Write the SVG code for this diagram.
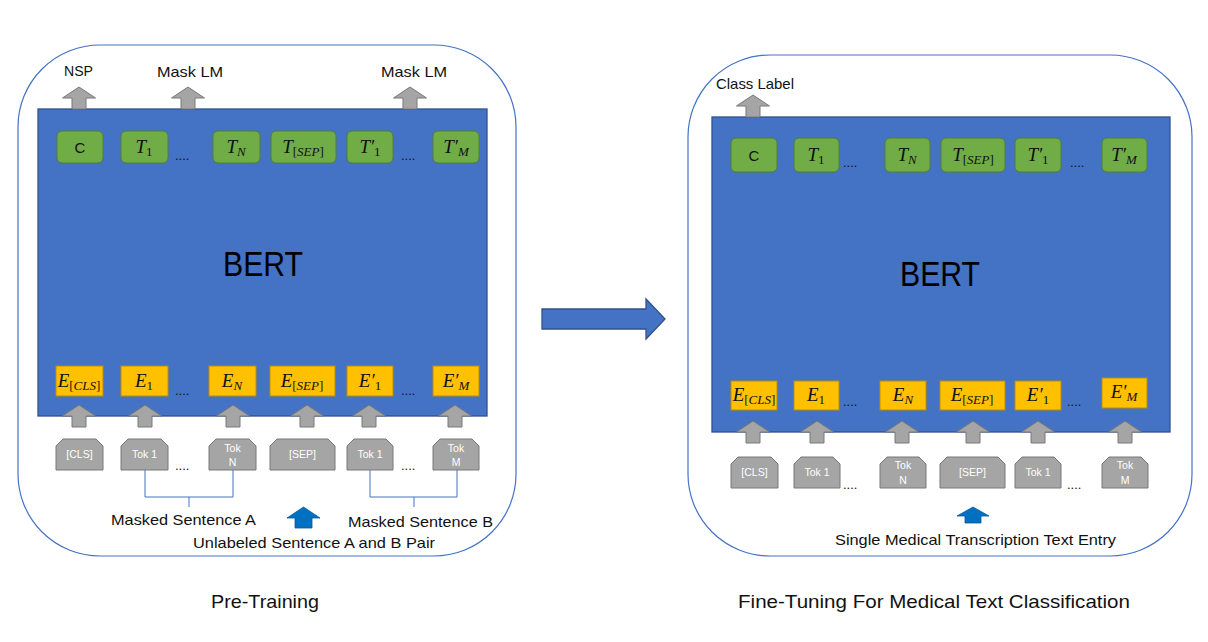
<svg xmlns="http://www.w3.org/2000/svg" xmlns:xlink="http://www.w3.org/1999/xlink" width="1208" height="642" viewBox="0 0 1208 642">
<defs>
<style>
.panel{fill:#fff;stroke:#4472C4;stroke-width:1.2}
.bert{fill:#4472C4;stroke:#2F528F;stroke-width:1.3}
.g{fill:#70AD47;stroke:#507E32;stroke-width:1}
.y{fill:#FFC000;stroke:#BC8C00;stroke-width:1}
.tok{fill:#A5A5A5;stroke:#787878;stroke-width:1}
.arr{fill:#A5A5A5;stroke:#787878;stroke-width:1}
.barr{fill:#0070C0;stroke:#005A9E;stroke-width:0.8}
.lbl{font-family:"Liberation Sans",Arial,sans-serif;font-size:15px;fill:#111}
.cap{font-family:"Liberation Sans",Arial,sans-serif;font-size:19px;fill:#111;text-anchor:middle}
.big{font-family:"Liberation Sans",Arial,sans-serif;font-size:35px;fill:#000;text-anchor:middle}
.m{font-family:"Liberation Serif","Times New Roman",serif;font-style:italic;font-size:19px;fill:#111;text-anchor:middle}
.s{font-size:13px}
.n{font-style:normal}
.c{font-family:"Liberation Sans",Arial,sans-serif;font-size:15px;fill:#111;text-anchor:middle}
.tt{font-family:"Liberation Sans",Arial,sans-serif;font-size:10.5px;fill:#fff;text-anchor:middle}
.dots{font-family:"Liberation Sans",Arial,sans-serif;font-size:13px;fill:#111}
.br{fill:none;stroke:#4472C4;stroke-width:1}
</style>
<path id="up" d="M0,0 L16.5,11 L7,11 L7,22 L-7,22 L-7,11 L-16.5,11 Z"/>
</defs>

<g id="pretraining-panel">
<rect class="panel" x="18" y="45" width="498" height="511" rx="82" ry="82"/>
</g>
<g id="finetuning-panel">
<rect class="panel" x="688" y="55" width="504" height="501" rx="82" ry="82"/>
</g>

<!-- ===== LEFT ===== -->
<g id="bert-left">
<rect class="bert" x="38" y="109" width="449" height="307"/>
<text class="big" x="263" y="276" textLength="80" lengthAdjust="spacingAndGlyphs">BERT</text>
</g>

<g id="L-C"><rect class="g" x="57" y="131" width="46" height="32" rx="5"/><text class="c" x="80" y="153">C</text></g>
<g id="L-T1"><rect class="g" x="121" y="131" width="47" height="32" rx="5"/><text class="m" x="144" y="153">T<tspan class="s n" dy="3">1</tspan></text></g>
<g id="L-TN"><rect class="g" x="213" y="131" width="47" height="32" rx="5"/><text class="m" x="236" y="153">T<tspan class="s" dy="3">N</tspan></text></g>
<g id="L-TSEP"><rect class="g" x="271" y="131" width="65" height="32" rx="5"/><text class="m" x="303" y="153">T<tspan class="s" dy="3"><tspan class="n">[</tspan>SEP<tspan class="n">]</tspan></tspan></text></g>
<g id="L-T1p"><rect class="g" x="347" y="131" width="46" height="32" rx="5"/><text class="m" x="370" y="153">T′<tspan class="s n" dy="3">1</tspan></text></g>
<g id="L-TMp"><rect class="g" x="433" y="131" width="46" height="32" rx="5"/><text class="m" x="456" y="153">T′<tspan class="s" dy="3">M</tspan></text></g>
<text class="dots" x="175" y="160">....</text>
<text class="dots" x="401" y="160">....</text>

<g id="L-ECLS"><rect class="y" x="56" y="366" width="47" height="30"/><text class="m" x="79" y="387">E<tspan class="s" dy="3"><tspan class="n">[</tspan>CLS<tspan class="n">]</tspan></tspan></text></g>
<g id="L-E1"><rect class="y" x="121" y="366" width="47" height="30"/><text class="m" x="144" y="387">E<tspan class="s n" dy="3">1</tspan></text></g>
<g id="L-EN"><rect class="y" x="209" y="366" width="47" height="30"/><text class="m" x="232" y="387">E<tspan class="s" dy="3">N</tspan></text></g>
<g id="L-ESEP"><rect class="y" x="270" y="366" width="65" height="30"/><text class="m" x="302" y="387">E<tspan class="s" dy="3"><tspan class="n">[</tspan>SEP<tspan class="n">]</tspan></tspan></text></g>
<g id="L-E1p"><rect class="y" x="347" y="366" width="46" height="30"/><text class="m" x="370" y="387">E′<tspan class="s n" dy="3">1</tspan></text></g>
<g id="L-EMp"><rect class="y" x="433" y="366" width="46" height="30"/><text class="m" x="456" y="387">E′<tspan class="s" dy="3">M</tspan></text></g>
<text class="dots" x="175" y="395">....</text>
<text class="dots" x="401" y="395">....</text>

<g id="L-tokCLS"><path class="tok" d="M56,470 L56,446 L63,439 L96,439 L103,446 L103,470 Z"/><text class="tt" x="79.5" y="458">[CLS]</text></g>
<g id="L-tok1"><path class="tok" d="M121,470 L121,446 L128,439 L161,439 L168,446 L168,470 Z"/><text class="tt" x="144.5" y="458">Tok 1</text></g>
<g id="L-tokN"><path class="tok" d="M209,470 L209,446 L216,439 L249,439 L256,446 L256,470 Z"/><text class="tt" x="232.5" y="452">Tok</text><text class="tt" x="232.5" y="466">N</text></g>
<g id="L-tokSEP"><path class="tok" d="M270,470 L270,446 L277,439 L328,439 L335,446 L335,470 Z"/><text class="tt" x="302.5" y="458">[SEP]</text></g>
<g id="L-tok1b"><path class="tok" d="M347,470 L347,446 L354,439 L386,439 L393,446 L393,470 Z"/><text class="tt" x="370" y="458">Tok 1</text></g>
<g id="L-tokM"><path class="tok" d="M433,470 L433,446 L440,439 L472,439 L479,446 L479,470 Z"/><text class="tt" x="456" y="452">Tok</text><text class="tt" x="456" y="466">M</text></g>
<text class="dots" x="175" y="470">....</text>
<text class="dots" x="401" y="470">....</text>

<g id="L-labels">
<text class="lbl" x="64" y="76" textLength="29" lengthAdjust="spacingAndGlyphs">NSP</text>
<text class="lbl" x="157" y="77" textLength="66" lengthAdjust="spacingAndGlyphs">Mask LM</text>
<text class="lbl" x="381" y="77" textLength="66" lengthAdjust="spacingAndGlyphs">Mask LM</text>
<text class="lbl" x="111" y="525" textLength="145" lengthAdjust="spacingAndGlyphs">Masked Sentence A</text>
<text class="lbl" x="348" y="527" textLength="145" lengthAdjust="spacingAndGlyphs">Masked Sentence B</text>
<text class="lbl" x="193" y="548" textLength="242" lengthAdjust="spacingAndGlyphs">Unlabeled Sentence A and B Pair</text>
</g>

<!-- ===== RIGHT ===== -->
<g id="bert-right">
<rect class="bert" x="712" y="117" width="458" height="315"/>
<text class="big" x="940" y="286" textLength="80" lengthAdjust="spacingAndGlyphs">BERT</text>
</g>

<g id="R-C"><rect class="g" x="731" y="138" width="46" height="34" rx="5"/><text class="c" x="754" y="161">C</text></g>
<g id="R-T1"><rect class="g" x="794" y="138" width="45" height="34" rx="5"/><text class="m" x="816" y="161">T<tspan class="s n" dy="3">1</tspan></text></g>
<g id="R-TN"><rect class="g" x="885" y="138" width="45" height="34" rx="5"/><text class="m" x="907" y="161">T<tspan class="s" dy="3">N</tspan></text></g>
<g id="R-TSEP"><rect class="g" x="941" y="138" width="64" height="34" rx="5"/><text class="m" x="973" y="161">T<tspan class="s" dy="3"><tspan class="n">[</tspan>SEP<tspan class="n">]</tspan></tspan></text></g>
<g id="R-T1p"><rect class="g" x="1015" y="138" width="46" height="34" rx="5"/><text class="m" x="1038" y="161">T′<tspan class="s n" dy="3">1</tspan></text></g>
<g id="R-TMp"><rect class="g" x="1102" y="138" width="45" height="34" rx="5"/><text class="m" x="1124" y="161">T′<tspan class="s" dy="3">M</tspan></text></g>
<text class="dots" x="843" y="167">....</text>
<text class="dots" x="1070" y="167">....</text>

<g id="R-ECLS"><rect class="y" x="731" y="381" width="46" height="29"/><text class="m" x="754" y="401">E<tspan class="s" dy="3"><tspan class="n">[</tspan>CLS<tspan class="n">]</tspan></tspan></text></g>
<g id="R-E1"><rect class="y" x="794" y="381" width="45" height="29"/><text class="m" x="816" y="401">E<tspan class="s n" dy="3">1</tspan></text></g>
<g id="R-EN"><rect class="y" x="880" y="381" width="46" height="29"/><text class="m" x="903" y="401">E<tspan class="s" dy="3">N</tspan></text></g>
<g id="R-ESEP"><rect class="y" x="940" y="381" width="65" height="29"/><text class="m" x="972" y="401">E<tspan class="s" dy="3"><tspan class="n">[</tspan>SEP<tspan class="n">]</tspan></tspan></text></g>
<g id="R-E1p"><rect class="y" x="1015" y="381" width="46" height="29"/><text class="m" x="1038" y="401">E′<tspan class="s n" dy="3">1</tspan></text></g>
<g id="R-EMp"><rect class="y" x="1102" y="378" width="45" height="30"/><text class="m" x="1124" y="398">E′<tspan class="s" dy="3">M</tspan></text></g>
<text class="dots" x="843" y="406">....</text>
<text class="dots" x="1067" y="406">....</text>

<g id="R-tokCLS"><path class="tok" d="M731,488 L731,464 L738,457 L771,457 L778,464 L778,488 Z"/><text class="tt" x="754.5" y="476">[CLS]</text></g>
<g id="R-tok1"><path class="tok" d="M794,488 L794,464 L801,457 L833,457 L840,464 L840,488 Z"/><text class="tt" x="817" y="476">Tok 1</text></g>
<g id="R-tokN"><path class="tok" d="M880,488 L880,464 L887,457 L919,457 L926,464 L926,488 Z"/><text class="tt" x="903" y="469">Tok</text><text class="tt" x="903" y="484">N</text></g>
<g id="R-tokSEP"><path class="tok" d="M940,488 L940,464 L947,457 L998,457 L1005,464 L1005,488 Z"/><text class="tt" x="972.5" y="476">[SEP]</text></g>
<g id="R-tok1b"><path class="tok" d="M1015,488 L1015,464 L1022,457 L1054,457 L1061,464 L1061,488 Z"/><text class="tt" x="1038" y="476">Tok 1</text></g>
<g id="R-tokM"><path class="tok" d="M1102,488 L1102,464 L1109,457 L1141,457 L1148,464 L1148,488 Z"/><text class="tt" x="1125" y="469">Tok</text><text class="tt" x="1125" y="484">M</text></g>
<text class="dots" x="843" y="489">....</text>
<text class="dots" x="1067" y="489">....</text>

<g id="R-labels">
<text class="lbl" x="716" y="89" textLength="78" lengthAdjust="spacingAndGlyphs">Class Label</text>
<text class="lbl" x="835" y="545" textLength="281" lengthAdjust="spacingAndGlyphs">Single Medical Transcription Text Entry</text>
</g>

<g id="captions">
<text class="cap" x="265" y="608" textLength="108" lengthAdjust="spacingAndGlyphs">Pre-Training</text>
<text class="cap" x="934" y="608" textLength="392" lengthAdjust="spacingAndGlyphs">Fine-Tuning For Medical Text Classification</text>
</g>

<g id="connectors">
<use href="#up" class="arr" x="79" y="87"/>
<use href="#up" class="arr" x="188" y="87"/>
<use href="#up" class="arr" x="410" y="87"/>
<use href="#up" class="arr" x="79" y="405"/>
<use href="#up" class="arr" x="145" y="405"/>
<use href="#up" class="arr" x="233" y="405"/>
<use href="#up" class="arr" x="307" y="405"/>
<use href="#up" class="arr" x="369" y="405"/>
<use href="#up" class="arr" x="455" y="405"/>
<use href="#up" class="arr" x="753" y="95"/>
<use href="#up" class="arr" x="753" y="421"/>
<use href="#up" class="arr" x="817" y="421"/>
<use href="#up" class="arr" x="902" y="421"/>
<use href="#up" class="arr" x="973" y="421"/>
<use href="#up" class="arr" x="1038" y="421"/>
<use href="#up" class="arr" x="1125" y="421"/>
<path class="br" d="M145,470 V497 H233 V470 M189,497 V507"/>
<path class="br" d="M370,470 V497 H457 V470 M414,497 V507"/>
<path class="barr" d="M303.5,507 L320,518 L312,518 L312,528 L295,528 L295,518 L287,518 Z"/>
<path class="barr" d="M973,507 L989,516 L981,516 L981,523 L965,523 L965,516 L957,516 Z"/>
<path class="bert" d="M542,309 L646,309 L646,299 L665,319 L646,339 L646,329 L542,329 Z"/>
</g>
</svg>
